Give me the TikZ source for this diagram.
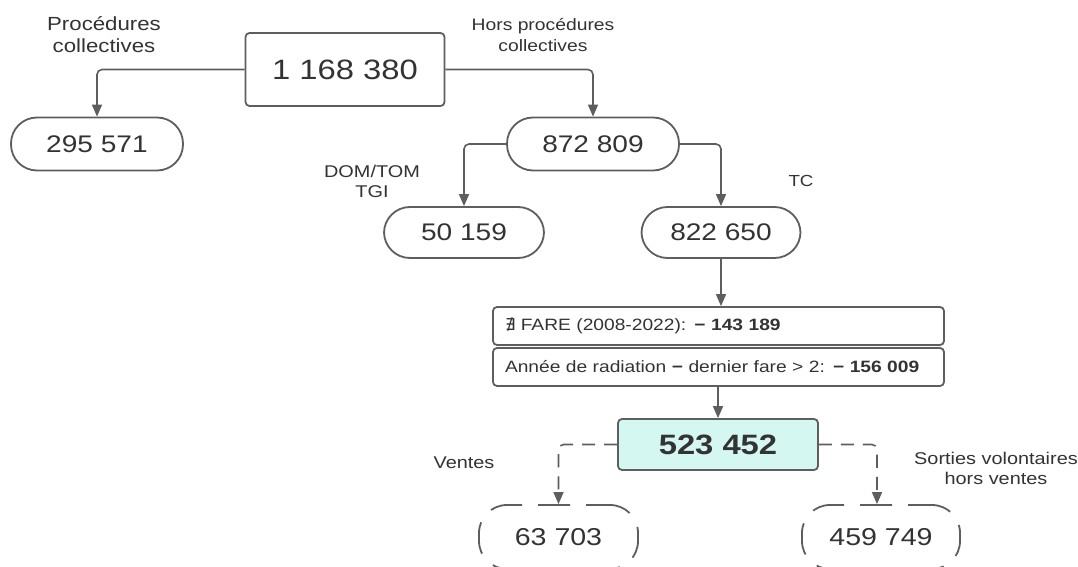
\documentclass[tikz,border=0pt]{standalone}
\usepackage{fontspec}
\setmainfont{Liberation Sans}[FakeStretch=1.17]
\newfontfamily\djv{DejaVu Sans}
\usetikzlibrary{arrows.meta}
\definecolor{ln}{HTML}{5E5E5E}
\definecolor{tx}{HTML}{333333}
\definecolor{cy}{HTML}{D5F7F2}
\begin{document}
\begin{tikzpicture}[x=1bp,y=-1bp,
 box/.style={draw=ln,line width=1.8bp,rounded corners=4bp,text=tx,inner sep=0pt},
 pill/.style={draw=ln,line width=1.8bp,rounded corners=26bp,text=tx,inner sep=0pt,minimum height=53bp,font=\fontsize{24bp}{28bp}\selectfont},
 dpill/.style={draw=ln,line width=1.8bp,rounded corners=28bp,dash pattern=on 32bp off 16bp,dash phase=8bp,text=tx,inner sep=0pt,minimum height=64bp,font=\fontsize{24.4bp}{28bp}\selectfont},
 lbl/.style={text=tx,align=center,font=\fontsize{17bp}{21bp}\selectfont,inner sep=0pt},
 fare/.style={box,minimum width=451bp,minimum height=38bp,text width=427bp,align=left,inner xsep=12bp,font=\fontsize{16.4bp}{20bp}\selectfont},
 conn/.style={draw=ln,line width=1.6bp,rounded corners=5bp,-{Triangle[length=12bp,width=10bp]}},
 dconn/.style={conn,dash pattern=on 13bp off 9bp}]
\useasboundingbox (0,0) rectangle (1078,567);
\fill[white] (0,0) rectangle (1078,567);

\node[box,minimum width=199bp,minimum height=73bp,font=\fontsize{28bp}{33bp}\selectfont] (top) at (345,69.5) {1 168 380};
\node[pill,minimum width=172bp] (p295) at (97,144) {295 571};
\node[pill,minimum width=172bp] (p872) at (593,144) {872 809};
\node[pill,minimum width=160bp,minimum height=51bp] (p50) at (464,232.5) {50 159};
\node[pill,minimum width=159bp,minimum height=51bp] (p822) at (721,232.5) {822 650};
\node[fare] (f1) at (718.5,326) {{\djv ∄} FARE (2008-2022): \textbf{− 143 189}};
\node[fare] (f2) at (718.5,367) {Année de radiation \textbf{−} dernier fare > 2: \textbf{− 156 009}};
\node[box,fill=cy,minimum width=200bp,minimum height=51bp,font=\bfseries\fontsize{28bp}{32bp}\selectfont] (p523) at (718,444.5) {523 452};
\node[dpill,minimum width=159bp] (p63) at (558.5,537) {63 703};
\node[dpill,minimum width=158bp] (p459) at (881,537) {459 749};

\node[lbl,font=\fontsize{19bp}{22bp}\selectfont] (l1) at (104,35) {Procédures\\collectives};
\node[lbl,font=\fontsize{16.5bp}{21bp}\selectfont] (l2) at (543,35) {Hors procédures\\collectives};
\node[lbl,font=\fontsize{17bp}{20bp}\selectfont] (l3) at (372,181) {DOM/TOM\\TGI};
\node[lbl,font=\fontsize{16bp}{20bp}\selectfont] (l4) at (801,181) {TC};
\node[lbl,font=\fontsize{17bp}{20bp}\selectfont] (l5) at (464,463) {Ventes};
\node[lbl,font=\fontsize{17bp}{20bp}\selectfont] (l6) at (996,468) {Sorties volontaires\\hors ventes};

\draw[conn] (top.west) -| (p295.north);
\draw[conn] (top.east) -| (p872.north);
\draw[conn] (p872.west) -| (p50.north);
\draw[conn] (p872.east) -| (p822.north);
\draw[conn] (p822.south) -- (p822.south |- f1.north);
\draw[conn] (f2.south -| p523.north) -- (p523.north);
\draw[dconn] (p523.west) -| (p63.north);
\draw[dconn] (p523.east) -| ([xshift=-4bp]p459.north);
\end{tikzpicture}
\end{document}
